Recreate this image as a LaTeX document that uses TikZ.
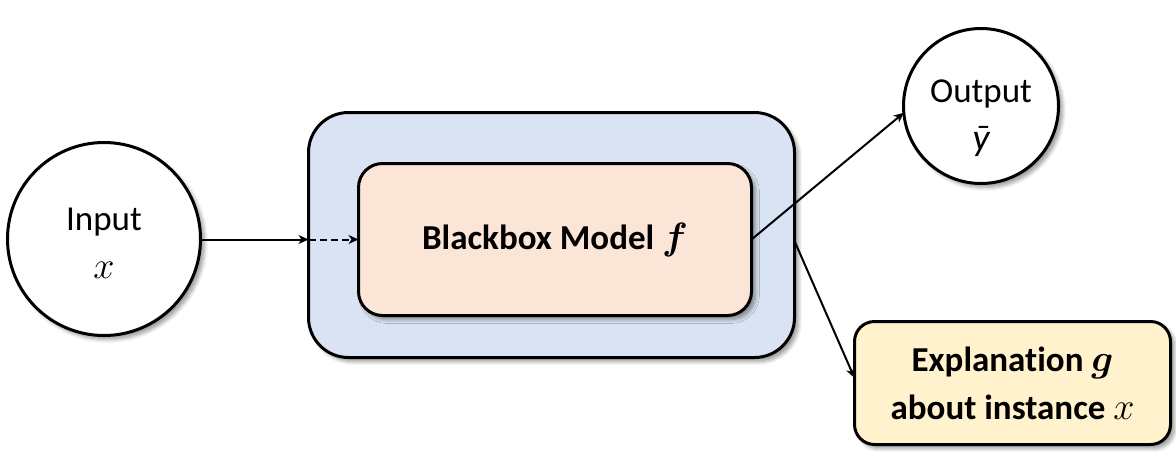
\documentclass[tikz,border=0pt]{standalone}
\usepackage{fontspec}
\usepackage{bm}
\setmainfont{Carlito}[Ligatures=NoCommon]
\usetikzlibrary{arrows.meta,shadows.blur}
\definecolor{outerblue}{HTML}{DAE3F3}
\definecolor{innerpeach}{HTML}{FBE5D6}
\definecolor{explyellow}{HTML}{FFF2CC}
\newcommand{\mth}[1]{\scalebox{1.1}{$#1$}}
\tikzset{
  base/.style={draw=black, line width=1.5pt, outer sep=0pt, inner sep=0pt, align=center,
    font=\fontsize{17.5}{24}\selectfont,
    blur shadow={shadow xshift=2pt, shadow yshift=-2pt, shadow blur steps=6, shadow opacity=40}},
  roundnode/.style={base, circle, fill=white},
  outerbox/.style={base, rectangle, rounded corners=20pt, fill=outerblue},
  innerbox/.style={base, rectangle, rounded corners=12pt, fill=innerpeach, font=\fontsize{17.5}{24}\selectfont\bfseries},
  explbox/.style={base, rectangle, rounded corners=10pt, fill=explyellow, font=\fontsize{17.5}{24}\selectfont\bfseries},
  lbl/.style={inner sep=0pt, align=center, font=\fontsize{17.5}{24}\selectfont},
  conn/.style={line width=1pt, -{Stealth[length=5pt,width=4.5pt,inset=1.5pt]}}
}
\begin{document}
\begin{tikzpicture}[x=0.5pt,y=-0.5pt]
\useasboundingbox (0,0) rectangle (1176,462);
\node[roundnode, minimum size=96.5pt] (input) at (104,239) {};
\node[lbl] (inlbl) at ([yshift=-2pt]input.center) {Input\\\mth{x}};
\node[roundnode, minimum size=77.5pt] (output) at (981,106) {};
\node[lbl] (outlbl) at ([yshift=-6pt]output.center) {Output\\{\itshape\fontsize{19}{24}\selectfont ȳ}};
\node[outerbox, minimum width=243pt, minimum height=122.5pt] (outer) at (551.5,235) {};
\node[innerbox, minimum width=196.5pt, minimum height=76pt] (inner) at (555,239.5) {Blackbox Model \mth{\bm{f}}};
\node[explbox, minimum width=158pt, minimum height=61.5pt] (expl) at (1012.5,383) {Explanation \mth{\bm{g}}\\about instance \mth{x}};
\coordinate (entry) at (inner.west -| outer.west);
\draw[conn] (input.east |- entry) -- (entry);
\draw[conn, dash pattern=on 3.5pt off 2pt] (entry) -- (inner.west);
\draw[conn] (inner.east) -- (output.185);
\draw[conn] ([yshift=-3pt]outer.east) -- ([yshift=2.5pt]expl.west);
\end{tikzpicture}
\end{document}
